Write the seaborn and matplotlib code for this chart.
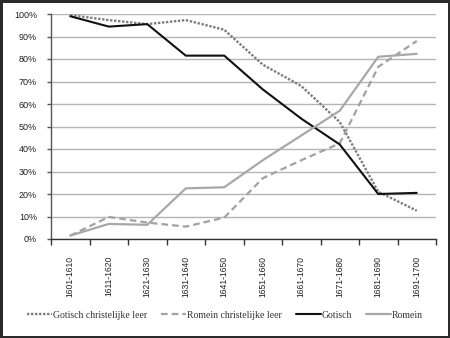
import matplotlib
matplotlib.use("Agg")
import matplotlib.pyplot as plt
import seaborn as sns
import pandas as pd
from matplotlib.ticker import FixedLocator, PercentFormatter

periods = ["1601-1610", "1611-1620", "1621-1630", "1631-1640", "1641-1650",
           "1651-1660", "1661-1670", "1671-1680", "1681-1690", "1691-1700"]
gotisch_christelijke_leer = [99.5, 97.3, 95.5, 97.3, 93.0, 77.5, 68.0, 52.0, 21.0, 12.6]
romein_christelijke_leer = [1.5, 9.8, 7.3, 5.5, 9.5, 27.0, 35.0, 42.5, 76.5, 88.0]
gotisch = [99.0, 94.4, 95.5, 81.5, 81.5, 66.5, 53.5, 42.0, 20.0, 20.5]
romein = [1.5, 6.7, 6.3, 22.5, 23.0, 35.0, 46.0, 57.0, 81.0, 82.3]

series_names = ["Gotisch christelijke leer", "Romein christelijke leer", "Gotisch", "Romein"]
series_values = [gotisch_christelijke_leer, romein_christelijke_leer, gotisch, romein]

sns.set_theme(style="white")
plt.rcParams["font.family"] = ["Liberation Sans", "DejaVu Sans"]

fig = plt.figure(figsize=(4.5, 3.38), dpi=100, linewidth=2.5, edgecolor="#2a2a2a")
ax = fig.add_axes([51 / 450, 1 - 239 / 338, (436 - 51) / 450, (239 - 14) / 338])

styles = {
    "Gotisch christelijke leer": dict(color="#7c7c7c", dashes=(1.0, 0.7), lw=1.7),
    "Romein christelijke leer": dict(color="#a2a2a2", dashes=(3.0, 1.8), lw=1.6),
    "Gotisch": dict(color="#111111", dashes=None, lw=1.5),
    "Romein": dict(color="#a8a8a8", dashes=None, lw=1.6),
}

for name, vals in zip(series_names, series_values):
    df = pd.DataFrame({"periode": periods, "waarde": vals})
    st = styles[name]
    kw = dict(data=df, x="periode", y="waarde", ax=ax, color=st["color"],
              linewidth=st["lw"], label=name, sort=False)
    sns.lineplot(**kw)
    line = ax.lines[-1]
    if st["dashes"] is not None:
        line.set_dashes(st["dashes"])
    line.set_solid_capstyle("round")
    line.set_dash_capstyle("butt")

ax.set_xlim(-0.5, len(periods) - 0.5)
ax.set_ylim(0, 100)
ax.set_yticks(range(0, 101, 10))
ax.yaxis.set_major_formatter(PercentFormatter(decimals=0))
ax.set_xticks(range(len(periods)))
ax.set_xticklabels(periods, rotation=90, fontsize=6.2, color="#222222")
ax.xaxis.set_minor_locator(FixedLocator([i - 0.5 for i in range(len(periods) + 1)]))
ax.tick_params(axis="x", which="major", length=0, pad=12)
ax.tick_params(axis="x", which="minor", length=4, width=1, color="#333333", bottom=True)
ax.tick_params(axis="y", which="major", length=3, width=1, color="#555555", pad=7,
               labelsize=6.5, labelcolor="#222222", left=True)
ax.set_xlabel("")
ax.set_ylabel("")

ax.grid(axis="y", color="#b5b5b5", linewidth=1)
ax.grid(axis="x", visible=False)
ax.set_axisbelow(True)
for side in ["top", "right"]:
    ax.spines[side].set_visible(False)
ax.spines["left"].set_color("#555555")
ax.spines["bottom"].set_color("#333333")
ax.spines["left"].set_linewidth(1)
ax.spines["bottom"].set_linewidth(1)

handles, labels = ax.get_legend_handles_labels()
ax.get_legend().remove() if ax.get_legend() else None
fig.legend(handles, labels, loc="center", bbox_to_anchor=(0.5, 1 - 315 / 338), ncol=4,
           frameon=False, prop={"family": ["Liberation Serif", "DejaVu Serif"], "size": 7},
           handlelength=2.6, handletextpad=0.1, columnspacing=1.4, labelcolor="#333333")

fig.savefig("out.png", dpi=100, edgecolor=fig.get_edgecolor())
